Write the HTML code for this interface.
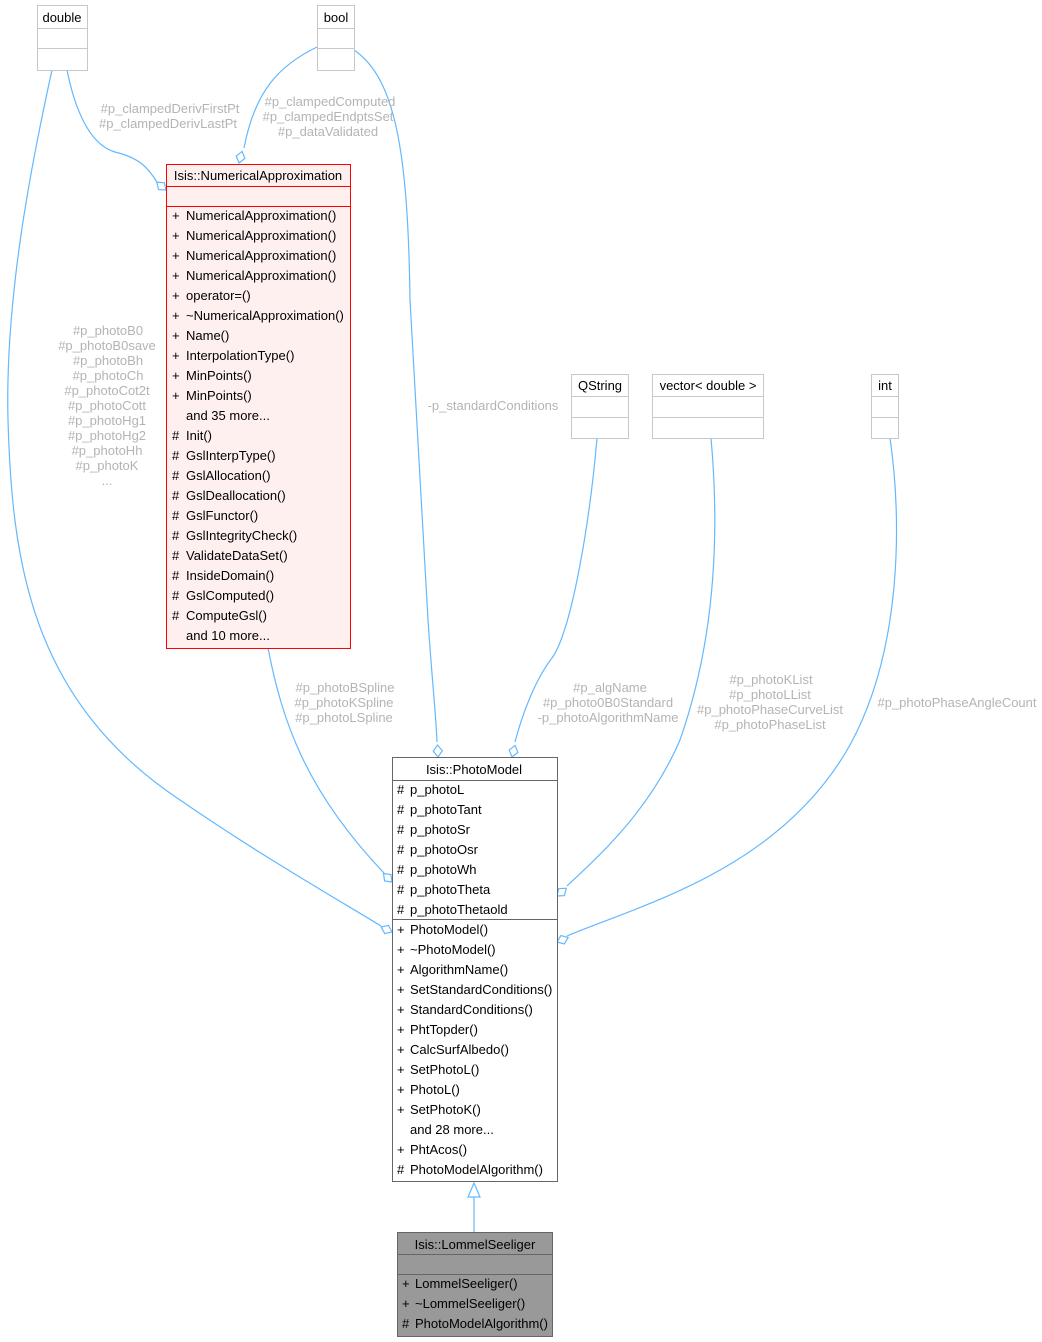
<!DOCTYPE html>
<html><head><meta charset="utf-8"><style>
html,body{margin:0;padding:0;background:#fff;}
svg{display:block;font-family:"Liberation Sans",Helvetica,Arial,sans-serif;font-size:13px;}
.l{fill:#b4b4b4;text-anchor:middle;}
.e{fill:none;stroke:#63b8ff;stroke-width:1.2;}
.d{fill:#fff;stroke:#63b8ff;stroke-width:1.2;}
.t{text-anchor:middle;fill:#000;}
</style></head><body>
<svg width="1042" height="1342" viewBox="0 0 1042 1342" xmlns="http://www.w3.org/2000/svg">
<!-- edges -->
<path class="e" d="M52,70 C 30,170 5,300 8,420 C 12,560 30,700 180,800 C 260,855 330,895 381,926"/>
<path class="e" d="M67,70 C 75,110 90,145 115,152 C 140,158 148,168 157,182"/>
<path class="e" d="M317,47 C 280,65 255,90 244,148"/>
<path class="e" d="M354,50 C 395,78 408,150 410,300 L 428,620 C 432,680 436,715 437,742"/>
<path class="e" d="M268,648 C 282,720 305,790 384,873"/>
<path class="e" d="M597,438 C 590,520 572,630 552,658 C 535,680 522,715 515,742"/>
<path class="e" d="M711,438 C 722,560 708,660 680,740 C 650,810 600,855 567,886"/>
<path class="e" d="M890,438 C 902,520 902,650 850,745 C 780,870 640,905 567,936"/>
<!-- diamonds -->
<polygon class="d" points="0,0 -6,-4.5 -12,0 -6,4.5" transform="translate(392,932) rotate(25)"/>
<polygon class="d" points="0,0 -6,-4.5 -12,0 -6,4.5" transform="translate(392,882) rotate(45)"/>
<polygon class="d" points="0,0 -6,-4.5 -12,0 -6,4.5" transform="translate(438,757) rotate(88)"/>
<polygon class="d" points="0,0 -6,-4.5 -12,0 -6,4.5" transform="translate(512,757) rotate(105)"/>
<polygon class="d" points="0,0 -6,-4.5 -12,0 -6,4.5" transform="translate(557,896) rotate(140)"/>
<polygon class="d" points="0,0 -6,-4.5 -12,0 -6,4.5" transform="translate(557,942) rotate(158)"/>
<polygon class="d" points="0,0 -6,-4.5 -12,0 -6,4.5" transform="translate(166,190) rotate(40)"/>
<polygon class="d" points="0,0 -6,-4.5 -12,0 -6,4.5" transform="translate(239,163) rotate(105)"/>
<!-- inheritance -->
<line class="e" x1="474" y1="1232" x2="474" y2="1197"/>
<polygon class="d" points="474,1183 468,1197 480,1197"/>
<!-- labels -->
<text class="l" x="170" y="113">#p_clampedDerivFirstPt</text>
<text class="l" x="168" y="128">#p_clampedDerivLastPt</text>
<text class="l" x="330" y="106">#p_clampedComputed</text>
<text class="l" x="328" y="121">#p_clampedEndptsSet</text>
<text class="l" x="328" y="136">#p_dataValidated</text>
<text class="l" x="108" y="335">#p_photoB0</text>
<text class="l" x="107" y="350">#p_photoB0save</text>
<text class="l" x="108" y="365">#p_photoBh</text>
<text class="l" x="108" y="380">#p_photoCh</text>
<text class="l" x="107" y="395">#p_photoCot2t</text>
<text class="l" x="107" y="410">#p_photoCott</text>
<text class="l" x="107" y="425">#p_photoHg1</text>
<text class="l" x="107" y="440">#p_photoHg2</text>
<text class="l" x="107" y="455">#p_photoHh</text>
<text class="l" x="107" y="470">#p_photoK</text>
<text class="l" x="107" y="485">...</text>
<text class="l" x="493" y="410">-p_standardConditions</text>
<text class="l" x="345" y="692">#p_photoBSpline</text>
<text class="l" x="344" y="707">#p_photoKSpline</text>
<text class="l" x="344" y="722">#p_photoLSpline</text>
<text class="l" x="610" y="692">#p_algName</text>
<text class="l" x="608" y="707">#p_photo0B0Standard</text>
<text class="l" x="608" y="722">-p_photoAlgorithmName</text>
<text class="l" x="771" y="684">#p_photoKList</text>
<text class="l" x="770" y="699">#p_photoLList</text>
<text class="l" x="770" y="714">#p_photoPhaseCurveList</text>
<text class="l" x="770" y="729">#p_photoPhaseList</text>
<text class="l" x="957" y="707">#p_photoPhaseAngleCount</text>
<!-- simple boxes -->
<g fill="#fff" stroke="#c8c8c8" stroke-width="1">
<rect x="37.5" y="5.5" width="50" height="65"/><line x1="37.5" y1="28.5" x2="87.5" y2="28.5"/><line x1="37.5" y1="48.5" x2="87.5" y2="48.5"/>
<rect x="317.5" y="5.5" width="37" height="65"/><line x1="317.5" y1="28.5" x2="354.5" y2="28.5"/><line x1="317.5" y1="48.5" x2="354.5" y2="48.5"/>
<rect x="571.5" y="374.5" width="57" height="64"/><line x1="571.5" y1="396.5" x2="628.5" y2="396.5"/><line x1="571.5" y1="417.5" x2="628.5" y2="417.5"/>
<rect x="652.5" y="374.5" width="111" height="64"/><line x1="652.5" y1="396.5" x2="763.5" y2="396.5"/><line x1="652.5" y1="417.5" x2="763.5" y2="417.5"/>
<rect x="871.5" y="374.5" width="27" height="64"/><line x1="871.5" y1="396.5" x2="898.5" y2="396.5"/><line x1="871.5" y1="417.5" x2="898.5" y2="417.5"/>
</g>
<text class="t" x="62" y="22">double</text>
<text class="t" x="336" y="22">bool</text>
<text class="t" x="600" y="390">QString</text>
<text class="t" x="708" y="390">vector&lt; double &gt;</text>
<text class="t" x="885" y="390">int</text>
<!-- NumericalApproximation -->
<g fill="#fff0f0" stroke="#ff0000" stroke-width="1">
<rect x="166.5" y="164.5" width="184" height="484"/>
<line x1="166.5" y1="186.5" x2="350.5" y2="186.5"/><line x1="166.5" y1="206.5" x2="350.5" y2="206.5"/>
</g>
<text class="t" x="258" y="180">Isis::NumericalApproximation</text>
<g>
<text x="172" y="220">+</text><text x="186" y="220">NumericalApproximation()</text>
<text x="172" y="240">+</text><text x="186" y="240">NumericalApproximation()</text>
<text x="172" y="260">+</text><text x="186" y="260">NumericalApproximation()</text>
<text x="172" y="280">+</text><text x="186" y="280">NumericalApproximation()</text>
<text x="172" y="300">+</text><text x="186" y="300">operator=()</text>
<text x="172" y="320">+</text><text x="186" y="320">~NumericalApproximation()</text>
<text x="172" y="340">+</text><text x="186" y="340">Name()</text>
<text x="172" y="360">+</text><text x="186" y="360">InterpolationType()</text>
<text x="172" y="380">+</text><text x="186" y="380">MinPoints()</text>
<text x="172" y="400">+</text><text x="186" y="400">MinPoints()</text>
<text x="186" y="420">and 35 more...</text>
<text x="172" y="440">#</text><text x="186" y="440">Init()</text>
<text x="172" y="460">#</text><text x="186" y="460">GslInterpType()</text>
<text x="172" y="480">#</text><text x="186" y="480">GslAllocation()</text>
<text x="172" y="500">#</text><text x="186" y="500">GslDeallocation()</text>
<text x="172" y="520">#</text><text x="186" y="520">GslFunctor()</text>
<text x="172" y="540">#</text><text x="186" y="540">GslIntegrityCheck()</text>
<text x="172" y="560">#</text><text x="186" y="560">ValidateDataSet()</text>
<text x="172" y="580">#</text><text x="186" y="580">InsideDomain()</text>
<text x="172" y="600">#</text><text x="186" y="600">GslComputed()</text>
<text x="172" y="620">#</text><text x="186" y="620">ComputeGsl()</text>
<text x="186" y="640">and 10 more...</text>
</g>
<!-- PhotoModel -->
<g fill="#fff" stroke="#666" stroke-width="1">
<rect x="392.5" y="757.5" width="165" height="424"/>
<line x1="392.5" y1="780.5" x2="557.5" y2="780.5"/><line x1="392.5" y1="919.5" x2="557.5" y2="919.5"/>
</g>
<text class="t" x="474" y="774">Isis::PhotoModel</text>
<g>
<text x="397" y="794">#</text><text x="410" y="794">p_photoL</text>
<text x="397" y="814">#</text><text x="410" y="814">p_photoTant</text>
<text x="397" y="834">#</text><text x="410" y="834">p_photoSr</text>
<text x="397" y="854">#</text><text x="410" y="854">p_photoOsr</text>
<text x="397" y="874">#</text><text x="410" y="874">p_photoWh</text>
<text x="397" y="894">#</text><text x="410" y="894">p_photoTheta</text>
<text x="397" y="914">#</text><text x="410" y="914">p_photoThetaold</text>
<text x="397" y="934">+</text><text x="410" y="934">PhotoModel()</text>
<text x="397" y="954">+</text><text x="410" y="954">~PhotoModel()</text>
<text x="397" y="974">+</text><text x="410" y="974">AlgorithmName()</text>
<text x="397" y="994">+</text><text x="410" y="994">SetStandardConditions()</text>
<text x="397" y="1014">+</text><text x="410" y="1014">StandardConditions()</text>
<text x="397" y="1034">+</text><text x="410" y="1034">PhtTopder()</text>
<text x="397" y="1054">+</text><text x="410" y="1054">CalcSurfAlbedo()</text>
<text x="397" y="1074">+</text><text x="410" y="1074">SetPhotoL()</text>
<text x="397" y="1094">+</text><text x="410" y="1094">PhotoL()</text>
<text x="397" y="1114">+</text><text x="410" y="1114">SetPhotoK()</text>
<text x="410" y="1134">and 28 more...</text>
<text x="397" y="1154">+</text><text x="410" y="1154">PhtAcos()</text>
<text x="397" y="1174">#</text><text x="410" y="1174">PhotoModelAlgorithm()</text>
</g>
<!-- LommelSeeliger -->
<g fill="#999999" stroke="#666" stroke-width="1">
<rect x="397.5" y="1232.5" width="155" height="104"/>
<line x1="397.5" y1="1254.5" x2="552.5" y2="1254.5"/><line x1="397.5" y1="1274.5" x2="552.5" y2="1274.5"/>
</g>
<text class="t" x="475" y="1249">Isis::LommelSeeliger</text>
<text x="402" y="1288">+</text><text x="415" y="1288">LommelSeeliger()</text>
<text x="402" y="1308">+</text><text x="415" y="1308">~LommelSeeliger()</text>
<text x="402" y="1328">#</text><text x="415" y="1328">PhotoModelAlgorithm()</text>
</svg>
</body></html>
